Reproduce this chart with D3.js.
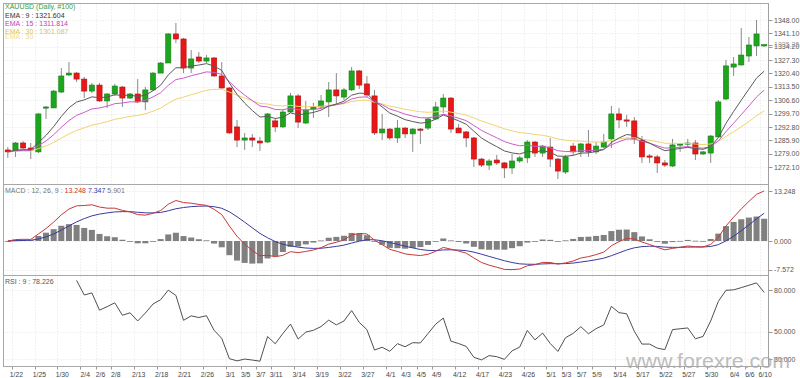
<!DOCTYPE html>
<html><head><meta charset="utf-8">
<script src="https://cdn.jsdelivr.net/npm/d3@7"></script>
<style>
html,body{margin:0;padding:0;background:#fff;overflow:hidden}
text{font-family:"Liberation Sans",Arial,sans-serif;}
</style></head><body>
<svg id="c" width="800" height="378"></svg>
<script>
const dates=["1/21","1/22","1/23","1/24","1/25","1/28","1/29","1/30","1/31","2/1",
"2/4","2/5","2/6","2/7","2/8","2/11","2/12","2/13","2/14","2/15",
"2/18","2/19","2/20","2/21","2/22","2/25","2/26","2/27","2/28","3/1",
"3/4","3/5","3/6","3/7","3/8","3/11","3/12","3/13","3/14","3/15",
"3/18","3/19","3/20","3/21","3/22","3/25","3/26","3/27","3/28","3/29",
"4/1","4/2","4/3","4/4","4/5","4/8","4/9","4/10","4/11","4/12",
"4/15","4/16","4/17","4/18","4/22","4/23","4/24","4/25","4/26","4/29",
"4/30","5/1","5/2","5/3","5/6","5/7","5/8","5/9","5/10","5/13",
"5/14","5/15","5/16","5/17","5/20","5/21","5/22","5/23","5/24","5/27",
"5/28","5/29","5/30","5/31","6/3","6/4","6/5","6/6","6/7","6/10"];
const open=[1280.9,1280.4,1284.5,1281.9,1279.9,1302.6,1302.6,1310.8,1319.6,1320.6,
1317.5,1311.3,1314.4,1306.2,1309.8,1313.4,1307.7,1309.8,1305.7,1311.9,
1320.6,1325.8,1340.8,1338.2,1323.2,1328.9,1326.8,1328.4,1319.1,1312.9,
1292.8,1286.0,1287.1,1285.5,1285.0,1295.9,1292.8,1300.5,1308.8,1294.8,
1302.1,1303.1,1305.7,1311.9,1308.2,1311.9,1321.7,1315.0,1308.8,1289.7,
1291.7,1287.1,1292.2,1289.2,1291.7,1292.2,1296.9,1303.1,1307.7,1292.2,
1290.2,1287.1,1276.2,1273.1,1275.7,1274.2,1271.6,1275.2,1276.8,1285.0,
1279.3,1282.4,1276.2,1269.5,1282.9,1279.9,1284.0,1279.9,1282.4,1286.6,
1299.5,1296.4,1295.9,1286.0,1277.8,1277.3,1274.2,1272.6,1283.5,1284.0,
1284.5,1278.8,1279.3,1287.6,1307.2,1323.7,1324.8,1329.4,1334.6,1334.6];
const high=[1282.4,1285.0,1285.5,1284.5,1300.0,1303.6,1311.9,1323.2,1326.3,1321.2,
1318.6,1315.5,1315.5,1310.3,1315.0,1313.9,1310.3,1317.5,1313.4,1321.2,
1326.3,1341.3,1346.5,1338.7,1332.5,1331.5,1329.9,1328.9,1326.3,1313.4,
1296.4,1289.7,1289.2,1287.6,1300.0,1297.4,1301.5,1310.3,1309.8,1306.2,
1305.2,1309.3,1316.0,1320.6,1312.9,1323.7,1322.2,1319.1,1311.9,1299.5,
1292.2,1296.4,1292.8,1292.2,1292.2,1297.4,1305.7,1309.8,1308.2,1294.3,
1290.7,1287.6,1276.8,1276.2,1278.3,1274.7,1278.8,1277.8,1286.0,1285.5,
1283.5,1287.1,1276.8,1278.3,1284.5,1284.5,1291.2,1285.0,1289.2,1303.6,
1302.6,1299.0,1297.9,1288.1,1278.8,1278.3,1275.7,1286.6,1284.5,1286.6,
1286.0,1280.4,1288.6,1306.7,1327.4,1328.9,1343.9,1339.2,1348.0,1335.6];
const low=[1276.8,1277.3,1281.4,1276.2,1279.3,1296.9,1302.6,1310.3,1319.1,1316.0,
1307.7,1310.3,1305.7,1302.6,1308.8,1303.1,1307.2,1305.2,1301.5,1311.3,
1320.6,1325.8,1336.1,1320.6,1320.6,1325.8,1325.8,1318.6,1312.4,1289.2,
1282.4,1280.9,1282.4,1280.4,1284.5,1290.2,1292.2,1300.0,1292.2,1294.3,
1297.4,1302.1,1297.9,1304.6,1306.7,1311.3,1312.4,1308.2,1288.6,1286.0,
1286.0,1284.5,1287.1,1279.9,1284.0,1291.2,1296.4,1300.0,1289.7,1289.7,
1282.4,1272.1,1272.1,1270.6,1273.1,1266.4,1268.5,1274.2,1274.2,1277.3,
1277.3,1272.1,1265.9,1268.5,1278.3,1277.3,1277.3,1278.8,1281.9,1281.9,
1292.2,1292.8,1284.0,1274.2,1274.2,1269.0,1272.1,1272.1,1279.9,1282.4,
1275.7,1278.3,1274.2,1287.6,1306.7,1319.1,1324.3,1326.3,1329.4,1334.1];
const close=[1279.9,1284.5,1281.9,1280.9,1299.5,1303.1,1311.3,1319.1,1320.6,1317.5,
1311.3,1314.4,1306.2,1309.8,1313.9,1307.7,1309.8,1305.7,1311.9,1320.6,
1325.8,1340.8,1338.2,1323.2,1327.9,1326.8,1328.4,1319.1,1312.9,1289.7,
1286.0,1287.1,1286.0,1284.5,1299.5,1292.8,1300.5,1308.8,1295.3,1301.5,
1303.1,1306.2,1311.9,1308.8,1311.9,1321.7,1314.4,1309.3,1289.7,1291.7,
1287.1,1292.2,1289.2,1291.7,1291.5,1296.9,1303.1,1307.7,1291.7,1289.7,
1287.1,1276.2,1273.1,1275.2,1274.2,1271.6,1275.2,1276.8,1285.0,1279.3,
1282.9,1276.2,1270.0,1277.3,1279.9,1284.0,1279.9,1282.9,1285.0,1299.5,
1296.4,1295.9,1286.6,1277.3,1277.3,1274.2,1273.1,1283.5,1284.0,1284.5,
1278.8,1279.9,1288.1,1305.7,1324.3,1325.3,1329.9,1335.1,1340.8,1335.25];
const ema9=[1279.90,1280.82,1281.04,1281.01,1284.71,1288.39,1292.97,1298.20,1302.68,1305.64,
1306.77,1308.30,1307.88,1308.26,1309.39,1309.05,1309.20,1308.50,1309.18,1311.47,
1314.33,1319.63,1323.34,1323.31,1324.23,1324.74,1325.47,1324.20,1321.94,1315.49,
1309.59,1305.09,1301.27,1297.92,1298.24,1297.15,1297.82,1300.02,1299.07,1299.56,
1300.27,1301.45,1303.54,1304.59,1306.05,1309.18,1310.23,1310.04,1305.97,1303.12,
1299.92,1298.37,1296.54,1295.57,1294.76,1295.18,1296.77,1298.95,1297.50,1295.94,
1294.17,1290.58,1287.08,1284.71,1282.60,1280.40,1279.36,1278.85,1280.08,1279.92,
1280.52,1279.66,1277.72,1277.64,1278.09,1279.27,1279.40,1280.10,1281.08,1284.76,
1287.09,1288.85,1288.40,1286.18,1284.41,1282.36,1280.51,1281.11,1281.69,1282.25,
1281.56,1281.23,1282.60,1287.22,1294.64,1300.77,1306.60,1312.30,1318.00,1321.60];
const ema15=[1279.90,1280.48,1280.66,1280.69,1283.04,1285.55,1288.77,1292.56,1296.07,1298.75,
1300.32,1302.08,1302.60,1303.50,1304.80,1305.16,1305.74,1305.74,1306.51,1308.27,
1310.46,1314.25,1317.24,1317.99,1319.23,1320.18,1321.21,1320.95,1319.94,1316.16,
1312.39,1309.23,1306.33,1303.60,1303.09,1301.80,1301.64,1302.54,1301.63,1301.61,
1301.80,1302.35,1303.54,1304.20,1305.16,1307.23,1308.13,1308.28,1305.96,1304.18,
1302.04,1300.81,1299.36,1298.40,1297.54,1297.46,1298.17,1299.36,1298.40,1297.31,
1296.03,1293.55,1290.99,1289.02,1287.17,1285.22,1283.97,1283.07,1283.31,1282.81,
1282.82,1282.00,1280.50,1280.10,1280.07,1280.56,1280.48,1280.78,1281.31,1283.58,
1285.18,1286.52,1286.53,1285.38,1284.37,1283.10,1281.85,1282.06,1282.30,1282.58,
1282.11,1281.83,1282.61,1285.50,1290.35,1294.72,1299.12,1303.62,1308.27,1311.81];
const ema30=[1279.90,1280.20,1280.31,1280.35,1281.58,1282.97,1284.80,1287.01,1289.18,1291.01,
1292.32,1293.74,1294.55,1295.53,1296.72,1297.43,1298.22,1298.71,1299.56,1300.91,
1302.52,1304.99,1307.13,1308.17,1309.44,1310.56,1311.71,1312.19,1312.24,1310.78,
1309.18,1307.76,1306.35,1304.94,1304.59,1303.83,1303.62,1303.95,1303.39,1303.27,
1303.26,1303.45,1303.99,1304.30,1304.79,1305.88,1306.43,1306.62,1305.53,1304.64,
1303.50,1302.77,1301.90,1301.24,1300.61,1300.37,1300.55,1301.01,1300.41,1299.72,
1298.90,1297.44,1295.87,1294.53,1293.22,1291.83,1290.75,1289.85,1289.54,1288.88,
1288.49,1287.70,1286.56,1285.96,1285.57,1285.47,1285.11,1284.97,1284.97,1285.91,
1286.59,1287.19,1287.15,1286.51,1285.92,1285.16,1284.38,1284.33,1284.31,1284.32,
1283.96,1283.70,1283.98,1285.38,1287.89,1290.31,1292.86,1295.59,1298.51,1301.09];
const macd=[0,0.37,0.45,0.42,1.87,3.29,5.01,6.92,8.46,9.32,
9.40,9.60,9.00,8.70,8.70,8.11,7.71,7.00,6.85,7.34,
8.07,9.74,10.73,10.18,10.02,9.69,9.44,8.41,7.00,3.97,
1.25,-0.81,-2.50,-3.91,-3.77,-4.16,-3.80,-2.82,-3.08,-2.77,
-2.37,-1.77,-0.83,-0.34,0.30,1.59,1.99,1.88,0.21,-0.95,
-2.21,-2.76,-3.41,-3.67,-3.85,-3.52,-2.73,-1.70,-2.17,-2.66,
-3.22,-4.49,-5.69,-6.40,-6.95,-7.52,-7.57,-7.43,-6.56,-6.27,
-5.67,-5.69,-6.12,-5.80,-5.29,-4.50,-4.15,-3.60,-2.95,-1.26,
-0.15,0.66,0.55,-0.28,-0.92,-1.67,-2.33,-1.97,-1.65,-1.32,
-1.52,-1.56,-0.92,1.00,3.96,6.33,8.48,10.48,12.37,13.25];
const signal=[0,0.07,0.15,0.20,0.54,1.09,1.87,2.88,4.00,5.06,
5.93,6.66,7.13,7.45,7.70,7.78,7.77,7.61,7.46,7.44,
7.56,8.00,8.54,8.87,9.10,9.22,9.26,9.09,8.67,7.73,
6.44,4.99,3.49,2.01,0.85,-0.15,-0.88,-1.27,-1.63,-1.86,
-1.96,-1.92,-1.70,-1.43,-1.09,-0.55,-0.04,0.34,0.32,0.06,
-0.39,-0.87,-1.37,-1.83,-2.24,-2.49,-2.54,-2.37,-2.33,-2.40,
-2.56,-2.95,-3.50,-4.08,-4.65,-5.23,-5.70,-6.05,-6.15,-6.17,
-6.07,-6.00,-6.02,-5.98,-5.84,-5.57,-5.29,-4.95,-4.55,-3.89,
-3.14,-2.38,-1.80,-1.49,-1.38,-1.44,-1.62,-1.69,-1.68,-1.61,
-1.59,-1.58,-1.45,-0.96,0.02,1.28,2.72,4.27,5.89,7.35];
const hist=[0,0.30,0.30,0.22,1.33,2.20,3.14,4.04,4.46,4.26,
3.47,2.94,1.87,1.26,1.00,0.33,-0.06,-0.61,-0.61,-0.10,
0.51,1.74,2.19,1.31,0.92,0.47,0.18,-0.68,-1.67,-3.76,
-5.19,-5.80,-5.99,-5.92,-4.62,-4.01,-2.92,-1.55,-1.45,-0.91,
-0.41,0.15,0.87,1.09,1.39,2.14,2.03,1.54,-0.11,-1.01,
-1.82,-1.90,-2.04,-1.84,-1.61,-1.03,-0.19,0.67,0.16,-0.26,
-0.66,-1.54,-2.19,-2.32,-2.30,-2.30,-1.89,-1.39,-0.41,-0.10,
0.40,0.31,-0.10,0.18,0.55,1.07,1.14,1.35,1.60,2.63,
2.99,3.04,2.35,1.21,0.46,-0.23,-0.72,-0.28,0.03,0.29,
0.07,0.02,0.53,1.96,3.94,5.05,5.76,6.21,6.48,5.90];
const rsi=[null,null,null,null,null,null,null,null,null,86.9,
76.4,77.9,65.5,68.0,70.8,61.8,63.6,57.7,63.4,69.9,
73.0,79.9,76.1,58.2,61.4,60.2,61.5,51.0,45.2,30.6,
29.0,30.3,29.6,28.8,46.5,41.3,48.7,55.5,44.7,49.7,
51.0,53.7,58.3,54.9,57.7,65.2,56.7,51.5,36.8,38.8,
35.9,41.4,39.2,42.1,41.9,48.7,55.4,59.8,43.2,41.5,
39.4,31.6,29.7,32.8,32.0,30.1,36.2,38.9,50.9,44.1,
49.0,41.5,35.8,45.7,48.8,53.6,48.5,52.2,54.8,68.2,
63.7,62.9,50.3,41.1,41.1,38.2,37.1,51.5,52.1,52.7,
44.9,46.6,57.7,71.8,79.8,80.1,81.7,83.4,85.1,78.2];
const xTickLabels=["1/22","1/25","1/30","2/4","2/6","2/8","2/13","2/18","2/21","2/26","3/1","3/5","3/7","3/11","3/14","3/19","3/22","3/27","4/1","4/3","4/5","4/9","4/12","4/17","4/23","4/26","5/1","5/3","5/7","5/9","5/14","5/17","5/22","5/27","5/30","6/4","6/6","6/10"];
const priceTicks=[1348.00,1341.10,1334.20,1327.30,1320.40,1313.50,1306.60,1299.70,1292.80,1285.90,1279.00,1272.10];
const macdTicks=[13.248,0,-7.572];
const rsiTicks=[80,50,30];
const lastPrice=1335.25;

const svg=d3.select("#c");
const L=3.5,R=768.5,T=3.5,P1=184.5,P2=275.5,B=366.5;
const x=d3.scaleBand().domain(dates).range([4,768]);
const bw=x.bandwidth();
const cx=d=>x(d)+bw/2;
const yP=d3.scaleLinear().domain([1263.32,1356.78]).range([184,3]);
const yM=d3.scaleLinear().domain([-9.27,15.10]).range([276,184]);
const yR=d3.scaleLinear().domain([25.32,90.07]).range([366,276]);

const grid=svg.append("g").attr("stroke","#e2e2e2").attr("stroke-dasharray","1,2").attr("stroke-width",1);
xTickLabels.forEach(t=>{
  const xx=Math.round(x(t))+0.5;
  grid.append("line").attr("x1",xx).attr("x2",xx).attr("y1",T).attr("y2",B);
});
priceTicks.forEach(v=>{const yy=Math.round(yP(v))+0.5;grid.append("line").attr("x1",L).attr("x2",R).attr("y1",yy).attr("y2",yy);});
macdTicks.forEach(v=>{const yy=Math.round(yM(v))+0.5;grid.append("line").attr("x1",L).attr("x2",R).attr("y1",yy).attr("y2",yy);});
rsiTicks.forEach(v=>{const yy=Math.round(yR(v))+0.5;grid.append("line").attr("x1",L).attr("x2",R).attr("y1",yy).attr("y2",yy);});

const fr=svg.append("g").attr("stroke","#a8a8a8").attr("fill","none");
fr.append("rect").attr("x",L).attr("y",T).attr("width",R-L).attr("height",B-T);
fr.append("line").attr("x1",L).attr("x2",R).attr("y1",P1).attr("y2",P1);
fr.append("line").attr("x1",L).attr("x2",R).attr("y1",P2).attr("y2",P2);

const cg=svg.append("g");
dates.forEach((d,i)=>{
  const up=close[i]>=open[i];
  const c=cx(d);
  cg.append("line").attr("x1",c).attr("x2",c).attr("y1",yP(high[i])).attr("y2",yP(low[i])).attr("stroke","#8a8a8a").attr("stroke-width",1);
  const y0=yP(Math.max(open[i],close[i])), y1=yP(Math.min(open[i],close[i]));
  cg.append("rect").attr("x",c-2.6).attr("y",y0).attr("width",5.2).attr("height",Math.max(1.2,y1-y0))
    .attr("fill",up?"#1ea51e":"#e81818").attr("stroke",up?"#158015":"#b01010").attr("stroke-width",0.6);
});
const line=(arr,ys)=>d3.line().defined((v)=>v!=null).x((v,i)=>cx(dates[i])).y(v=>ys(v))(arr);
svg.append("path").attr("d",line(ema30,yP)).attr("fill","none").attr("stroke","#f0d470").attr("stroke-width",1);
svg.append("path").attr("d",line(ema15,yP)).attr("fill","none").attr("stroke","#c85ec8").attr("stroke-width",1);
svg.append("path").attr("d",line(ema9,yP)).attr("fill","none").attr("stroke","#5a5a5a").attr("stroke-width",1);

const hg=svg.append("g");
dates.forEach((d,i)=>{
  const v=hist[i];
  const a=yM(0), b=yM(v);
  hg.append("rect").attr("x",x(d)+0.8).attr("width",bw-1.6).attr("y",Math.min(a,b)).attr("height",Math.max(0.8,Math.abs(a-b))).attr("fill","#808080");
});
svg.append("path").attr("d",line(signal,yM)).attr("fill","none").attr("stroke","#3a3aa0").attr("stroke-width",1);
svg.append("path").attr("d",line(macd,yM)).attr("fill","none").attr("stroke","#c83838").attr("stroke-width",1);

svg.append("path").attr("d",line(rsi,yR)).attr("fill","none").attr("stroke","#505050").attr("stroke-width",1);

const ax=svg.append("g");
ax.append("line").attr("x1",R).attr("x2",R).attr("y1",T).attr("y2",B).attr("stroke","#a0a0a0");
const fs=7;
function rlabel(yy,txt,col){
  ax.append("line").attr("x1",R).attr("x2",R+4).attr("y1",Math.round(yy)+0.5).attr("y2",Math.round(yy)+0.5).attr("stroke","#999");
  ax.append("text").attr("x",774).attr("y",yy+2.6).attr("font-size",fs).attr("fill",col||"#555").text(txt);
}
priceTicks.forEach(v=>rlabel(yP(v),v.toFixed(2)));
rlabel(yP(lastPrice),lastPrice.toFixed(2),"#999");
macdTicks.forEach(v=>rlabel(yM(v),v.toFixed(3)));
rsiTicks.forEach(v=>rlabel(yR(v),v.toFixed(3)));

const xa=svg.append("g");
xTickLabels.forEach(t=>{
  const xx=Math.round(x(t))+0.5;
  xa.append("line").attr("x1",xx).attr("x2",xx).attr("y1",B).attr("y2",B+3).attr("stroke","#999");
  xa.append("text").attr("x",cx(t)+1).attr("y",376.5).attr("text-anchor","middle").attr("font-size",6.8).attr("fill","#444").text(t);
});

const lg=svg.append("g").attr("font-size",fs);
lg.append("text").attr("x",5).attr("y",9.3).attr("fill","#3c9a3c").text("XAUUSD (Daily, #100)");
lg.append("text").attr("x",5).attr("y",17.5).attr("fill","#333").text("EMA : 9 : 1321.604");
lg.append("text").attr("x",5).attr("y",25.7).attr("fill","#c040c0").text("EMA : 15 : 1311.814");
lg.append("text").attr("x",5).attr("y",33.5).attr("fill","#dcc450").text("EMA : 30 : 1301.087");
lg.append("text").attr("x",5).attr("y",39.2).attr("fill","#ece090").text("EMA : 30");
const mt=lg.append("text").attr("x",5).attr("y",193.3);
mt.append("tspan").attr("fill","#777").text("MACD : 12, 26, 9 : ");
mt.append("tspan").attr("fill","#c83838").text("13.248 ");
mt.append("tspan").attr("fill","#3a3aa0").text("7.347 ");
mt.append("tspan").attr("fill","#777").text("5.901");
lg.append("text").attr("x",5).attr("y",284.3).attr("fill","#555").text("RSI : 9 : 78.226");

svg.append("text").attr("x",626).attr("y",368).attr("font-size",21).attr("textLength",164).attr("lengthAdjust","spacingAndGlyphs")
  .attr("fill","#a8a8a8").attr("opacity",0.75).text("www.forexre.com");
</script>
</body></html>
